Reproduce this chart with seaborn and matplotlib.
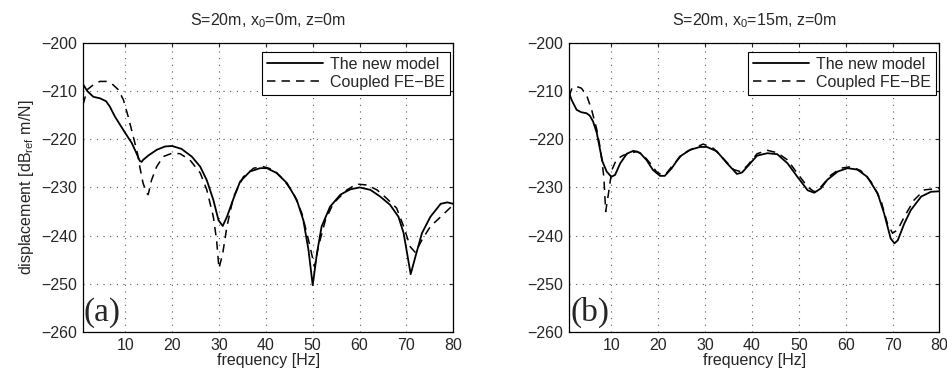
#%% Package Imports

import matplotlib.pyplot as plt
import seaborn as sns

#%% Data

# panel (a): S=20m, x0=0m
freq_a_new = [1, 1.9, 3.2, 4.6, 5.9, 6.7, 7.8, 8.9, 10, 11.4, 12.4, 13.1, 13.5, 13.8, 14.9, 16.7,
              18.5, 20, 22, 24.2, 26, 27.4, 28.8, 29.9, 30.8, 31.7, 33.1, 34.5, 36.6, 38.8,
              40.2, 42.3, 44.5, 46.6, 48, 49.1, 50, 50.9, 51.9, 53.7, 55.9, 58, 60, 62.3,
              64.4, 66.5, 68.3, 69.4, 70.9, 71.9, 73.3, 75.1, 77.3, 78.7, 80]
disp_a_new = [-208.6, -210, -211.2, -211.5, -212.1, -213.2, -215.3, -217, -218.7, -220.8, -222.9,
              -224.5, -224.7, -224.3, -223.4, -222.2, -221.5, -221.4, -222, -223.6, -225.7,
              -228.5, -232.6, -236.8, -238, -236.1, -232.3, -228.8, -226.7, -226, -226,
              -227, -229.1, -232.6, -236.8, -243, -250.3, -243.7, -238.1, -234, -231.5,
              -230.4, -230, -230.5, -231.9, -233.6, -236.1, -239.5, -248, -244.4, -239.5,
              -236.1, -233.4, -233.1, -233.4]

freq_a_febe = [1, 1.9, 3.2, 4.6, 6, 7.4, 8.5, 9.6, 10.6, 11.7, 12.6, 13.1, 13.8, 14.6, 14.9,
               15.6, 16.7, 18.1, 20, 21.7, 23.8, 26, 27.4, 28.8, 29.5, 30, 30.8, 31.7, 33.1,
               35.2, 37.4, 39.5, 41.6, 43.8, 45.9, 47.7, 49.1, 50.4, 51.2, 52.7, 54.4, 57.3,
               59.4, 61.6, 63.7, 65.7, 67.9, 69.4, 70.8, 71.9, 73.3, 75.1, 77.3, 80]
disp_a_febe = [-212.8, -209.7, -208.7, -208, -208, -208.7, -209.7, -211.8, -215.2, -219.4,
               -222.9, -225.7, -229.1, -231.2, -231.5, -228.5, -225.7, -223.6, -222.9, -223,
               -224.3, -227, -230.5, -236.1, -241, -246.8, -243.7, -238.1, -231.9, -227.8,
               -226, -225.7, -226.3, -228.4, -231.2, -235.4, -240.9, -246.5, -242.3, -236.8,
               -233.3, -230.5, -229.3, -229.5, -230.5, -232.2, -234.3, -238.1, -242.3, -243.5,
               -240.9, -238.1, -236.1, -233.6]

# panel (b): S=20m, x0=15m
freq_b_new = [1, 1.5, 2.6, 3.6, 4.7, 5.4, 6.1, 6.9, 7.6, 8.1, 9, 10, 10.8, 11.9, 13.3, 14.7,
              16.1, 17.5, 18.9, 20.4, 21.4, 22.9, 24.6, 26.8, 28.9, 30.4, 32.5, 34.7, 36.8,
              37.9, 39, 41.1, 43.3, 45.4, 47.6, 49.7, 51.9, 53.3, 54.7, 56.1, 58.3, 60.4,
              62.5, 64.6, 66.8, 68.2, 69.6, 70.4, 71.1, 72.5, 73.9, 76.1, 78.2, 80]
disp_b_new = [-210.4, -211.8, -213.9, -214.4, -214.6, -215.1, -216.3, -218.7, -222.2, -224.6,
              -226.7, -227.8, -227.4, -225, -223, -222.4, -222.8, -224.3, -226.4, -227.6,
              -227.6, -226, -223.6, -222.2, -221.6, -221.6, -222.5, -225, -227.2, -226.9,
              -225.7, -223.4, -222.9, -223.1, -225, -227.8, -230.6, -231.1, -230.2, -228.4,
              -226.7, -226, -226.3, -227.8, -231.2, -235.4, -240.6, -241.6, -241, -237.5,
              -234.7, -231.9, -230.9, -230.8]

freq_b_febe = [1, 1.6, 2.4, 3.6, 4.7, 5.8, 6.9, 7.7, 8.4, 8.8, 9.4, 10.1, 11.1, 12.6, 14, 15.4,
               16.9, 18.3, 19.6, 20.7, 21.8, 23.2, 25.4, 27.5, 29.6, 31.8, 33.9, 36.1, 37.5,
               39, 41.1, 43.3, 45.4, 47.6, 49.7, 51.9, 53.3, 54.7, 56.9, 59, 61.1, 63.2, 65.4,
               67.5, 68.9, 70, 71.1, 72.5, 74.6, 76.8, 80]
disp_b_febe = [-211.1, -209.4, -209, -209.4, -210.8, -213.9, -218, -222.2, -227.8, -235,
               -231.2, -226.4, -224.2, -223.3, -223, -222.5, -223.4, -225, -226.7, -227.4,
               -227, -225.3, -222.9, -221.9, -221, -221.9, -224, -226.3, -226.7, -225.5, -223,
               -222.3, -222.8, -224.3, -227.1, -229.9, -230.9, -229.9, -227.4, -226, -225.7,
               -226.5, -228.8, -232.6, -237.5, -239.5, -238.8, -236.1, -232.6, -230.5, -230.2]

titles = ['S=20m, x$_0$=0m, z=0m', 'S=20m, x$_0$=15m, z=0m']
panel_tags = ['(a)', '(b)']
series_names = ['The new model', 'Coupled FE\u2212BE']

#%% Plot

sns.set_style('white')
plt.rcParams['font.family'] = ['Liberation Sans', 'DejaVu Sans']
plt.rcParams['mathtext.fontset'] = 'custom'
plt.rcParams['mathtext.rm'] = 'Liberation Sans'
plt.rcParams['mathtext.it'] = 'Liberation Sans'

fs = 11.5

fig = plt.figure(figsize=(9.47, 3.76), dpi=100)
ax_a = fig.add_axes([0.0877, 0.117, 0.391, 0.769])
ax_b = fig.add_axes([0.601, 0.117, 0.391, 0.769])

panels = [(ax_a, freq_a_new, disp_a_new, freq_a_febe, disp_a_febe),
          (ax_b, freq_b_new, disp_b_new, freq_b_febe, disp_b_febe)]

for i, (ax, f_new, d_new, f_fe, d_fe) in enumerate(panels):
    sns.lineplot(x=f_new, y=d_new, ax=ax, color='k', lw=1.3, label=series_names[0])
    sns.lineplot(x=f_fe, y=d_fe, ax=ax, color='k', lw=1.1, linestyle='--',
                 label=series_names[1])
    ax.lines[1].set_dashes((5.5, 4))
    ax.set_xlim(1, 80)
    ax.set_ylim(-260, -200)
    ax.set_xticks(range(10, 81, 10))
    ax.set_yticks(range(-260, -199, 10))
    ax.grid(True, linestyle=(0, (1, 5)), color='0.35', lw=0.8)
    ax.tick_params(direction='in', top=True, right=True, labelsize=fs, length=3,
                   width=0.8, pad=4)
    for s in ax.spines.values():
        s.set_color('k')
        s.set_linewidth(0.9)
    ax.set_title(titles[i], fontsize=fs, pad=13)
    ax.set_xlabel('frequency [Hz]', fontsize=fs, labelpad=0)
    ax.text(1.2, -259.1, panel_tags[i], family='Liberation Serif', fontsize=24,
            ha='left', va='bottom')
    leg = ax.legend(loc='upper right', bbox_to_anchor=(0.99, 0.969), fontsize=fs,
                    handlelength=3.5, frameon=True, fancybox=False, borderaxespad=0,
                    borderpad=0.3, labelspacing=0.2, handletextpad=0.45)
    leg.get_frame().set_edgecolor('k')
    leg.get_frame().set_linewidth(0.8)
    leg.get_frame().set_alpha(1)

ax_a.set_ylabel('displacement [dB$_{\\rm ref}$ m/N]', fontsize=fs, labelpad=4)

fig.savefig('out.png', dpi=100)
